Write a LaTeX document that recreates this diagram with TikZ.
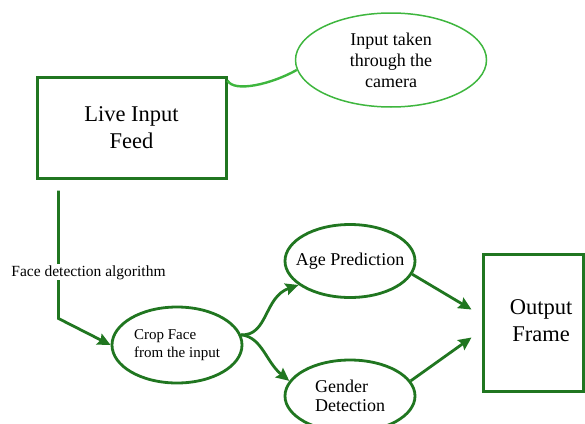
\documentclass[tikz,border=0pt]{standalone}
\usepackage{fontspec}
\setmainfont{Liberation Serif}
\newfontfamily\tms{Liberation Serif}
\usetikzlibrary{shapes.geometric,arrows.meta}
\definecolor{dg}{RGB}{32,118,32}
\definecolor{lg}{RGB}{62,182,62}
\begin{document}
\begin{tikzpicture}[x=1pt,y=-1pt,
  box/.style={draw=dg,line width=3pt,inner sep=0pt},
  ell/.style={ellipse,draw=dg,line width=2.8pt,inner sep=0pt},
  arr/.style={draw=dg,line width=2.8pt,-{Stealth[length=13pt,width=12pt,inset=2pt]}},
  big/.style={font=\tms\fontsize{22.5}{27}\selectfont},
  mid/.style={font=\tms\fontsize{18}{19}\selectfont},
  small/.style={font=\tms\fontsize{15}{18}\selectfont}]
\useasboundingbox (0,0) rectangle (585,423);
% nodes
\node[box,big,align=center,minimum width=189pt,minimum height=101pt] (live) at (131.5,127.5) {Live Input\\Feed};
\node[ellipse,draw=lg,line width=1.5pt,inner sep=0pt,minimum width=191pt,minimum height=94pt,
      align=center,font=\tms\fontsize{18}{21}\selectfont] (cam) at (391,60) {Input taken\\through the\\camera};
\node[ell,small,align=left,minimum width=130pt,minimum height=76pt] (crop) at (177,345) {Crop Face\\from the input};
\node[ell,mid,inner xsep=-10pt,minimum width=130pt,minimum height=73pt] (age) at (350,261) {Age Prediction};
\node[ell,mid,align=left,minimum width=130pt,minimum height=72pt] (gender) at (350,396) {Gender\\Detection};
\node[box,big,minimum width=100pt,minimum height=137pt] (out) at (533,322.5)
  {\hspace*{16pt}\begin{tabular}{@{}c@{}}Output\\Frame\end{tabular}};
% connectors
\draw[lg,line width=2.4pt] ([yshift=-5pt]live.north east) .. controls (234,93) and (272,84) .. (cam.186);
\draw[arr] ([xshift=23pt,yshift=-11pt]live.south west)
  -- node[pos=0.64,xshift=30pt,fill=white,inner sep=1pt,font=\tms\fontsize{15.5}{18}\selectfont]{Face detection algorithm} ++(0,128)
  -- (crop.west);
\draw[arr] (crop.9) .. controls (268,336) and (264,297) .. (age.205);
\draw[arr] (crop.9) .. controls (262,337) and (266,362) .. (gender.166);
\draw[arr] (age.-12) -- ([xshift=-10pt,yshift=13pt]out.west);
\draw[arr] (gender.14) -- ([xshift=-10pt,yshift=-15pt]out.west);
\end{tikzpicture}
\end{document}
